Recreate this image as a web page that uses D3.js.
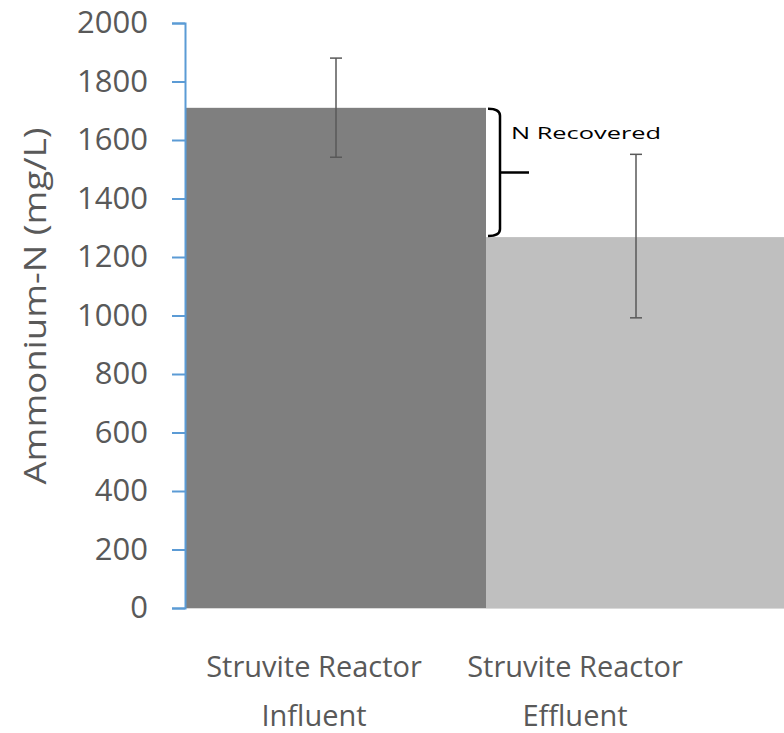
<!DOCTYPE html>
<html>
<head>
<meta charset="utf-8">
<script src="https://cdn.jsdelivr.net/npm/d3@7"></script>
<style>
  body { margin: 0; background: #fff; }
  svg { display: block; }
</style>
</head>
<body>
<svg id="chart" width="784" height="733"></svg>
<script>
// values
var categories = ["Struvite Reactor|Influent", "Struvite Reactor|Effluent"];
var ammonium = [1710, 1268];
var errLow = [1541, 992];
var errHigh = [1880, 1551];
var barColors = ["#7f7f7f", "#bfbfbf"];
var labelShift = [-22, -61];
var yTicks = [0, 200, 400, 600, 800, 1000, 1200, 1400, 1600, 1800, 2000];

var svg = d3.select("#chart");
var font = "'Open Sans', 'Liberation Sans', sans-serif";

var x0 = 186, x1 = 786, yTop = 23, yBot = 608;

var x = d3.scaleBand().domain(categories).range([x0, x1]).padding(0);
var y = d3.scaleLinear().domain([0, 2000]).range([yBot, yTop]);

// bars
svg.selectAll(".bar").data(categories).enter().append("rect")
    .attr("class", "bar")
    .attr("x", function(d) { return x(d); })
    .attr("width", x.bandwidth())
    .attr("y", function(d, i) { return y(ammonium[i]); })
    .attr("height", function(d, i) { return yBot - y(ammonium[i]); })
    .attr("fill", function(d, i) { return barColors[i]; });

// x axis baseline
svg.append("line")
    .attr("x1", x0).attr("x2", 784)
    .attr("y1", yBot + 0.5).attr("y2", yBot + 0.5)
    .attr("stroke", "#d9d9d9").attr("stroke-width", 1);

// error bars
var eb = svg.selectAll(".err").data(categories).enter().append("g").attr("class", "err");
eb.append("line")
    .attr("x1", function(d) { return x(d) + x.bandwidth() / 2; })
    .attr("x2", function(d) { return x(d) + x.bandwidth() / 2; })
    .attr("y1", function(d, i) { return y(errLow[i]); })
    .attr("y2", function(d, i) { return y(errHigh[i]); });
[errLow, errHigh].forEach(function(arr) {
    eb.append("line")
        .attr("x1", function(d) { return x(d) + x.bandwidth() / 2 - 6; })
        .attr("x2", function(d) { return x(d) + x.bandwidth() / 2 + 6; })
        .attr("y1", function(d, i) { return y(arr[i]); })
        .attr("y2", function(d, i) { return y(arr[i]); });
});
eb.selectAll("line").attr("stroke", "#595959").attr("stroke-width", 1.5);

// y axis
var yAxis = svg.append("g")
    .attr("transform", "translate(" + (x0 - 1) + ",0)")
    .call(d3.axisLeft(y).tickValues(yTicks).tickSize(13).tickPadding(24).tickFormat(d3.format("d")));
yAxis.select(".domain").attr("stroke", "#5b9bd5").attr("stroke-width", 2);
yAxis.selectAll(".tick line").attr("stroke", "#5b9bd5").attr("stroke-width", 2);
yAxis.selectAll(".tick text")
    .attr("font-family", font).attr("font-size", 31)
    .attr("fill", "#595959");

// y title
svg.append("text")
    .attr("transform", "translate(46,306) rotate(-90)")
    .attr("text-anchor", "middle")
    .attr("font-family", font).attr("font-size", 31)
    .attr("textLength", 357).attr("lengthAdjust", "spacingAndGlyphs")
    .attr("fill", "#595959")
    .text("Ammonium-N (mg/L)");

// category labels
categories.forEach(function(c, i) {
    var lines = c.split("|");
    var t = svg.append("text")
        .attr("text-anchor", "middle")
        .attr("font-family", font).attr("font-size", 29)
        .attr("fill", "#595959");
    lines.forEach(function(l, k) {
        t.append("tspan")
            .attr("x", x(c) + x.bandwidth() / 2 + labelShift[i])
            .attr("y", 677 + k * 49)
            .text(l);
    });
});

// bracket showing recovered N
var bx = x(categories[1]);
var bTop = y(ammonium[0]), bBot = y(ammonium[1]);
var bMid = (bTop + bBot) / 2;
svg.append("path")
    .attr("d", "M" + (bx + 2) + "," + (bTop + 1) +
               " Q" + (bx + 14) + "," + (bTop + 1) + " " + (bx + 14) + "," + (bTop + 8) +
               " L" + (bx + 14) + "," + (bBot - 8) +
               " Q" + (bx + 14) + "," + (bBot - 1) + " " + (bx + 2) + "," + (bBot - 1) +
               " M" + (bx + 14) + "," + bMid + " L" + (bx + 43) + "," + bMid)
    .attr("fill", "none").attr("stroke", "#000").attr("stroke-width", 2.5);
svg.append("text")
    .attr("x", bx + 25).attr("y", bTop + 31)
    .attr("font-family", font).attr("font-size", 16)
    .attr("textLength", 150).attr("lengthAdjust", "spacingAndGlyphs")
    .attr("fill", "#000")
    .text("N Recovered");
</script>
</body>
</html>
